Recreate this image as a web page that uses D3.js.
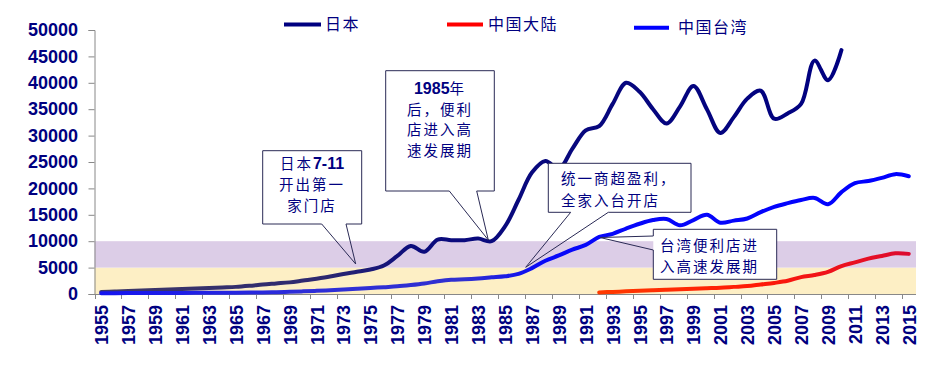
<!DOCTYPE html>
<html><head><meta charset="utf-8">
<script src="https://cdn.jsdelivr.net/npm/d3@7"></script>
<style>body{margin:0;background:#fff;} svg{display:block}</style>
</head><body><svg id="chart" width="950" height="369"></svg>
<script>
// ---------------- DATA ----------------
const years = [1955,1956,1957,1958,1959,1960,1961,1962,1963,1964,1965,1966,1967,1968,1969,1970,1971,1972,1973,1974,1975,1976,1977,1978,1979,1980,1981,1982,1983,1984,1985,1986,1987,1988,1989,1990,1991,1992,1993,1994,1995,1996,1997,1998,1999,2000,2001,2002,2003,2004,2005,2006,2007,2008,2009,2010,2011,2012,2013,2014,2015];
const japanYears = [1955,1956,1957,1958,1959,1960,1961,1962,1963,1964,1965,1966,1967,1968,1969,1970,1971,1972,1973,1974,1975,1976,1977,1978,1979,1980,1981,1982,1983,1984,1985,1986,1987,1988,1989,1990,1991,1992,1993,1994,1995,1996,1997,1998,1999,2000,2001,2002,2003,2004,2005,2006,2007,2008,2009,2010];
const japanValues = [400,480,560,650,750,850,950,1050,1150,1250,1350,1550,1800,2000,2200,2550,2900,3300,3800,4200,4650,5400,7200,9100,8000,10300,10200,10200,10500,10000,12800,17800,23000,25200,23700,27500,31000,31800,36000,40000,38300,35000,32300,35500,39400,35000,30500,33500,37000,38500,33200,34200,36000,44200,40500,46200];
const taiwanValues = [150,160,170,180,190,200,210,220,230,240,250,270,300,350,420,500,600,720,850,1000,1150,1300,1450,1700,2000,2400,2700,2800,2950,3150,3350,3800,4900,6300,7300,8400,9300,10800,11400,12400,13300,14000,14200,13000,14000,15000,13500,13900,14300,15500,16500,17200,17800,18200,17000,19300,21000,21400,22000,22700,22300];
const mainlandYears = [1992,1993,1994,1995,1996,1997,1998,1999,2000,2001,2002,2003,2004,2005,2006,2007,2008,2009,2010,2011,2012,2013,2014,2015];
const mainlandValues = [300,400,500,600,700,800,900,1000,1100,1200,1350,1500,1800,2100,2500,3200,3600,4200,5300,6000,6700,7200,7700,7600];
const yTickValues = [0,5000,10000,15000,20000,25000,30000,35000,40000,45000,50000];
const xLabelYears = [1955,1957,1959,1961,1963,1965,1967,1969,1971,1973,1975,1977,1979,1981,1983,1985,1987,1989,1991,1993,1995,1997,1999,2001,2003,2005,2007,2009,2011,2013,2015];
const seriesNames = ["日本","中国大陆","中国台湾"];
const shadeBands = [[0,5000],[5000,10000]];
const calloutTexts = [
  [["日本","7-11"],["开出第一"],["家门店"]],
  [["","1985","年"],["后，便利"],["店进入高"],["速发展期"]],
  [["统一商超盈利，"],["全家入台开店"]],
  [["台湾便利店进"],["入高速发展期"]]
];

// ---------------- LAYOUT ----------------
const svg = d3.select("#chart");
const navy = "#000080";
const cjk = "'Noto Sans CJK SC', sans-serif";
const latin = "Arial, 'Liberation Sans', sans-serif";

const x = d3.scaleBand().domain(years).range([94.5, 915.5]).paddingInner(0).paddingOuter(0);
const bw = x.bandwidth();
const xc = yr => x(yr) + bw / 2;
const y = d3.scaleLinear().domain([0, 50000]).range([294, 30]);

const defs = svg.append("defs");
function grad(id, x1, x2, stops) {
  const g = defs.append("linearGradient").attr("id", id).attr("gradientUnits", "userSpaceOnUse")
    .attr("x1", x1).attr("x2", x2).attr("y1", 0).attr("y2", 0);
  stops.forEach(s => g.append("stop").attr("offset", s[0]).attr("stop-color", s[1]));
}
grad("gJapan", 100, 845, [[0, "#3e3868"], [0.3, "#2c2870"], [0.42, "#0c0c7c"], [1, "#000080"]]);
grad("gTaiwan", 100, 910, [[0, "#1414f0"], [0.25, "#2e2ed8"], [0.45, "#3030d0"], [0.55, "#0808f8"], [1, "#0000ff"]]);
grad("gMain", 600, 910, [[0, "#ff3a00"], [0.5, "#ff1a06"], [1, "#dc0a30"]]);

// shaded bands
const bandColors = ["#fdefc5", "#dccde7"];
svg.append("g").selectAll("rect").data(shadeBands).join("rect")
  .attr("x", 94.5).attr("width", 915.5 - 94.5 + 0.5)
  .attr("y", d => y(d[1])).attr("height", d => y(d[0]) - y(d[1]))
  .attr("fill", (d, i) => bandColors[i]);

// y axis
const yAxis = svg.append("g").attr("transform", "translate(94.5,0)")
  .call(d3.axisLeft(y).tickValues(yTickValues).tickSize(6).tickPadding(10).tickFormat(d3.format("d")));
yAxis.select(".domain").attr("stroke", "#888");
yAxis.selectAll(".tick line").attr("stroke", "#888");
yAxis.selectAll(".tick text").attr("fill", navy).attr("font-family", latin)
  .attr("font-weight", "bold").attr("font-size", 18).attr("x", -16.5);

// x axis
const xAxisG = svg.append("g");
xAxisG.append("line").attr("x1", 94.5).attr("x2", 916).attr("y1", 294.5).attr("y2", 294.5).attr("stroke", "#888");
xAxisG.selectAll("line.tk").data(xLabelYears).join("line").attr("class", "tk")
  .attr("x1", d => Math.round(x(d)) + 0.5).attr("x2", d => Math.round(x(d)) + 0.5)
  .attr("y1", 294).attr("y2", 299).attr("stroke", "#888");
xAxisG.selectAll("text").data(xLabelYears).join("text")
  .attr("transform", d => `translate(${xc(d) + 0.5},305) rotate(-90)`)
  .attr("text-anchor", "end").attr("dy", "0.36em")
  .attr("fill", navy).attr("font-family", latin).attr("font-weight", "bold").attr("font-size", 18)
  .text(d => d);

// lines
const line = d3.line().x(d => xc(d[0])).y(d => y(d[1])).curve(d3.curveCatmullRom.alpha(0.5));
const seriesData = [
  { pts: japanYears.map((yr, i) => [yr, japanValues[i]]), stroke: "url(#gJapan)" },
  { pts: years.map((yr, i) => [yr, taiwanValues[i]]), stroke: "url(#gTaiwan)" },
  { pts: mainlandYears.map((yr, i) => [yr, mainlandValues[i]]), stroke: "url(#gMain)" }
];

// callouts (layout geometry)
const callouts = [
  { box: [262.7, 150.7, 361.7, 224], side: "bottom", base: [321.7, 346], tip: [355.7, 264], align: "middle", tx: 312, ty: [163.5, 185, 206] },
  { box: [385.7, 70.7, 494.3, 191], side: "bottom", base: [449.3, 476.7], tip: [488.3, 240], align: "middle", tx: 440, ty: [88.3, 109.3, 130, 151] },
  { box: [548.3, 163.3, 691, 212.3], side: "bottom", base: [570.7, 608.3], tip: [525.7, 267.3], align: "start", tx: 561, ty: [179, 200.3] },
  { box: [653.3, 229.3, 776.7, 279.3], side: "left", base: [236, 250], tip: [600, 237.5], align: "start", tx: 660, ty: [245.5, 266.7] }
];

const linesG = svg.append("g");
linesG.selectAll("path").data(seriesData).join("path")
  .attr("d", d => line(d.pts)).attr("fill", "none").attr("stroke", d => d.stroke)
  .attr("stroke-width", 4).attr("stroke-linecap", "round").attr("stroke-linejoin", "round");

const cg = svg.append("g");
callouts.forEach((c, ci) => {
  const [l, t, r, b] = c.box;
  cg.append("rect").attr("x", l).attr("y", t).attr("width", r - l).attr("height", b - t).attr("fill", "#fff");
  let p;
  if (c.side === "bottom") {
    p = `M${l},${t}H${r}V${b}H${c.base[1]}L${c.tip[0]},${c.tip[1]}L${c.base[0]},${b}H${l}Z`;
  } else {
    p = `M${l},${t}H${r}V${b}H${l}V${c.base[1]}L${c.tip[0]},${c.tip[1]}L${l},${c.base[0]}Z`;
  }
  cg.append("path").attr("d", p).attr("fill", "none").attr("stroke", "#2a2a55").attr("stroke-width", 1);
  calloutTexts[ci].forEach((parts, li) => {
    const tEl = cg.append("text").attr("x", c.tx).attr("y", c.ty[li]).attr("dy", "0.36em")
      .attr("text-anchor", c.align).attr("fill", navy).attr("font-size", 14.5);
    parts.forEach(s => {
      if (!s) return;
      const isNum = /^[0-9\-]+$/.test(s);
      tEl.append("tspan").text(s)
        .attr("font-family", isNum ? latin : cjk)
        .attr("font-weight", isNum ? "bold" : "normal")
        .attr("letter-spacing", isNum ? 0 : 2)
        .attr("font-size", isNum ? 16 : 14.5);
    });
  });
});

// legend
const legendItems = [
  { name: seriesNames[0], color: navy, x1: 284, x2: 321, ty: 24.5, tx: 325 },
  { name: seriesNames[1], color: "#ff0000", x1: 447, x2: 483, ty: 24.5, tx: 488 },
  { name: seriesNames[2], color: "#0000ff", x1: 634, x2: 669, ty: 27.7, tx: 678 }
];
const lg = svg.append("g");
legendItems.forEach(it => {
  lg.append("line").attr("x1", it.x1).attr("x2", it.x2).attr("y1", it.ty).attr("y2", it.ty)
    .attr("stroke", it.color).attr("stroke-width", 4);
  lg.append("text").attr("x", it.tx).attr("y", it.ty).attr("dy", "0.36em")
    .attr("fill", navy).attr("font-family", cjk).attr("font-size", 16).attr("letter-spacing", 1.5)
    .text(it.name);
});
</script></body></html>
